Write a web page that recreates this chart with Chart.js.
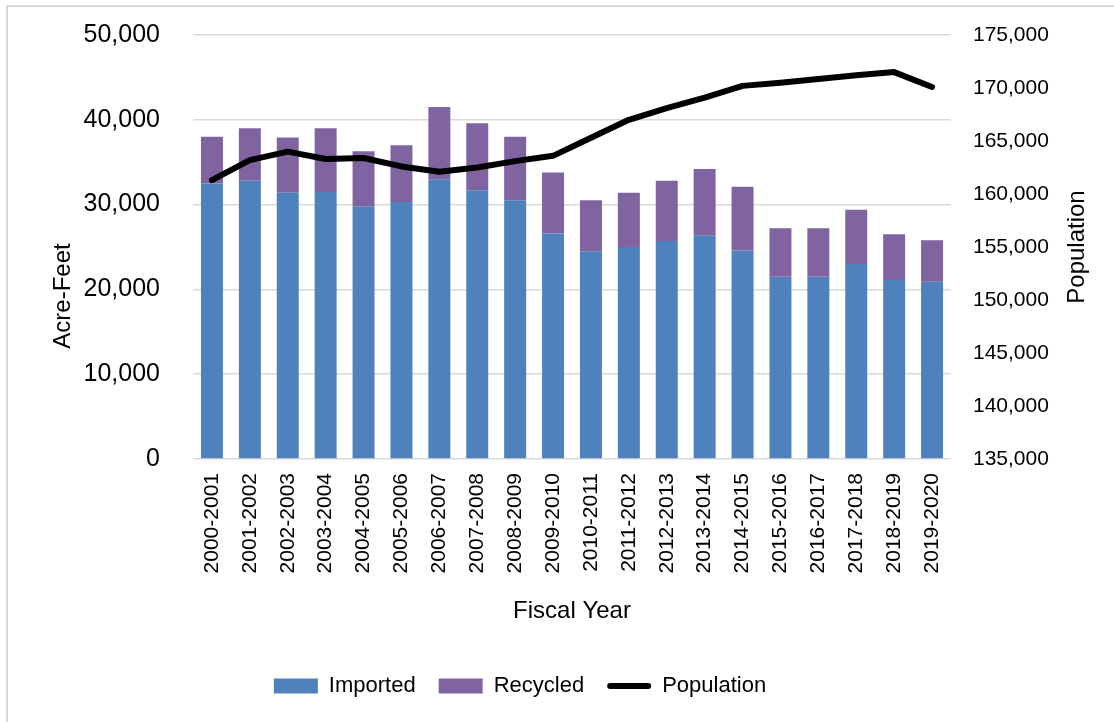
<!DOCTYPE html>
<html>
<head>
<meta charset="UTF-8">
<title>Imported and recycled water vs population</title>
<style>
  body { margin: 0; background: #fff; }
  #frame { position: absolute; left: 6px; top: 5px; width: 1108px; height: 717px;
           border-left: 2px solid #d9d9d9; border-top: 2px solid #d9d9d9; }
  #wrap { position: absolute; left: 0; top: 0; width: 1114px; height: 722px; }
</style>
</head>
<body>
<div id="frame"></div>
<div id="wrap"><canvas id="chart" width="1114" height="722"></canvas></div>

<script src="https://cdn.jsdelivr.net/npm/chart.js@4.4.0/dist/chart.umd.min.js"></script>

<script>
  var years = ['2000-2001', '2001-2002', '2002-2003', '2003-2004', '2004-2005',
               '2005-2006', '2006-2007', '2007-2008', '2008-2009', '2009-2010',
               '2010-2011', '2011-2012', '2012-2013', '2013-2014', '2014-2015',
               '2015-2016', '2016-2017', '2017-2018', '2018-2019', '2019-2020'];

  // acre-feet
  var imported = [32500, 32800, 31400, 31500, 29800, 30300, 33000, 31700, 30500, 26600,
                  24500, 25000, 25700, 26400, 24600, 21500, 21500, 23000, 21100, 20900];
  var recycled = [5500, 6200, 6500, 7500, 6500, 6700, 8500, 7900, 7500, 7200,
                  6000, 6400, 7100, 7800, 7500, 5700, 5700, 6400, 5400, 4900];

  var population = [161300, 163200, 164000, 163300, 163400, 162600, 162100, 162500, 163100, 163600,
                    165300, 167000, 168100, 169100, 170200, 170500, 170850, 171200, 171500, 170100];

  var acreMin = 0, acreMax = 50000, acreStep = 10000;
  var popMin = 135000, popMax = 175000, popStep = 5000;

  Chart.defaults.font.family = "'Liberation Sans', Arial, sans-serif";
  Chart.defaults.color = '#000';

  var fmt = function(v) { return Number(v).toLocaleString('en-US'); };

  // y scales: fixed width, and don't let tick padding push the plot top down
  var fixY = function(w) {
    return function(s) {
      s.width = w;
      s.paddingTop = 10;
      s.paddingBottom = 10;
    };
  };

  // extra drawing: legend line marker, rotated axis titles, legend shift
  var extras = {
    id: 'extras',
    afterLayout: function(chart) {
      var lg = chart.legend;
      lg.right -= 74;
      lg.legendHitBoxes.forEach(function(h) { h.left -= 37; });
    },
    afterDraw: function(chart) {
      var ctx = chart.ctx;
      var area = chart.chartArea;
      var h = chart.legend.legendHitBoxes[2];
      ctx.save();
      ctx.strokeStyle = '#000';
      ctx.lineWidth = 6;
      ctx.lineCap = 'round';
      ctx.beginPath();
      ctx.moveTo(h.left + 3, h.top + h.height / 2);
      ctx.lineTo(h.left + 41, h.top + h.height / 2);
      ctx.stroke();

      ctx.fillStyle = '#000';
      ctx.font = "24px 'Liberation Sans', Arial, sans-serif";
      ctx.textAlign = 'center';
      ctx.textBaseline = 'middle';

      ctx.save();
      ctx.translate(chart.scales.y.left + 63, area.top + 261);
      ctx.rotate(-Math.PI / 2);
      ctx.fillText('Acre-Feet', 0, 0);
      ctx.restore();

      ctx.save();
      ctx.translate(chart.scales.y1.right - 37, (area.top + area.bottom) / 2);
      ctx.rotate(-Math.PI / 2);
      ctx.fillText('Population', 0, 0);
      ctx.restore();

      ctx.restore();
    }
  };

  var chart = new Chart(document.getElementById('chart'), {
    data: {
      labels: years,
      datasets: [
        { type: 'bar', label: 'Imported', data: imported, backgroundColor: '#4f81bd',
          yAxisID: 'y', order: 1, barPercentage: 0.58, categoryPercentage: 1 },
        { type: 'bar', label: 'Recycled', data: recycled, backgroundColor: '#8064a2',
          yAxisID: 'y', order: 1, barPercentage: 0.58, categoryPercentage: 1 },
        { type: 'line', label: 'Population', data: population, yAxisID: 'y1', order: 0,
          borderColor: '#000', backgroundColor: '#000', borderWidth: 6, pointRadius: 0,
          tension: 0, borderCapStyle: 'round', borderJoinStyle: 'round', fill: false }
      ]
    },
    options: {
      responsive: false,
      animation: false,
      devicePixelRatio: 1,
      layout: { padding: { top: 35, left: 0, right: 0, bottom: 15 } },
      plugins: {
        tooltip: { enabled: false },
        legend: {
          position: 'bottom',
          labels: {
            boxWidth: 44, boxHeight: 15, padding: 23,
            font: { size: 22 }, color: '#000',
            generateLabels: function(chart) {
              return chart.data.datasets.map(function(ds, i) {
                var isLine = ds.type === 'line';
                return {
                  text: ds.label,
                  fillStyle: isLine ? 'rgba(0,0,0,0)' : ds.backgroundColor,
                  strokeStyle: 'rgba(0,0,0,0)',
                  lineWidth: 0,
                  hidden: false,
                  datasetIndex: i,
                  fontColor: '#000'
                };
              });
            }
          }
        }
      },
      scales: {
        x: {
          stacked: true,
          grid: { display: false, drawTicks: false },
          border: { display: false },
          ticks: { minRotation: 90, maxRotation: 90, autoSkip: false, padding: 14,
                   font: { size: 21 }, color: '#000' },
          title: { display: true, text: 'Fiscal Year', font: { size: 24 }, color: '#000',
                   padding: { top: 0, bottom: 26 } },
          afterFit: function(s) { s.height = 193; }
        },
        y: {
          stacked: true,
          position: 'left',
          min: acreMin, max: acreMax,
          grid: { color: '#d9d9d9', lineWidth: 1.5, drawTicks: false },
          border: { display: false },
          ticks: { stepSize: acreStep, padding: 33, font: { size: 25 }, color: '#000', callback: fmt },
          afterFit: fixY(193)
        },
        y1: {
          position: 'right',
          min: popMin, max: popMax,
          grid: { display: false, drawTicks: false },
          border: { display: false },
          ticks: { stepSize: popStep, padding: 22, font: { size: 21 }, color: '#000', callback: fmt },
          afterFit: fixY(163)
        }
      }
    },
    plugins: [extras]
  });
</script>
</body>
</html>
